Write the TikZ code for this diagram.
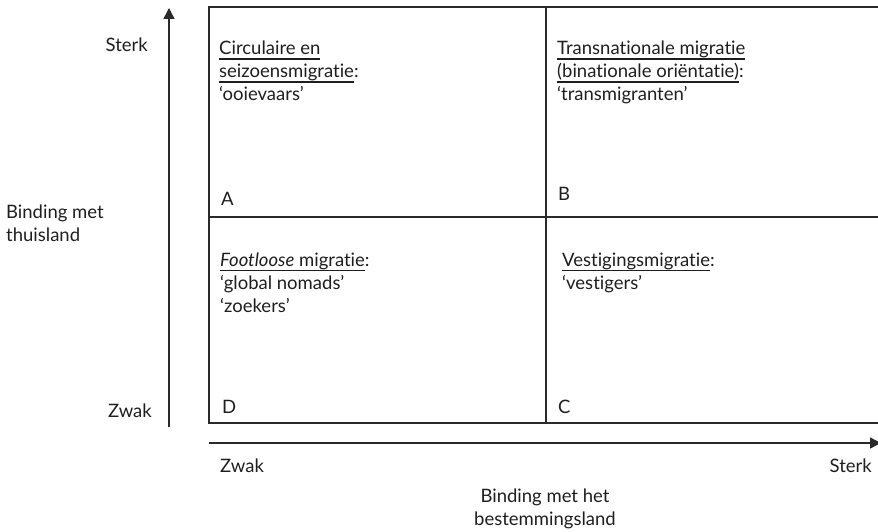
\documentclass[tikz,border=0pt]{standalone}
\usepackage{fontspec}
\setmainfont{Lato}[Ligatures={NoCommon}]
\usetikzlibrary{arrows.meta}
\definecolor{ink}{HTML}{1E1E1E}
\definecolor{rule}{HTML}{2A2A2A}
\newcommand{\myul}[1]{\leavevmode\setbox0\hbox{#1}\rlap{\rule[-4.6pt]{\wd0}{1.1pt}}\box0}
\begin{document}
\begin{tikzpicture}[x=1pt,y=-1pt,
  lbl/.style={anchor=base west,inner sep=0pt,text=ink,font=\fontsize{18.5}{23}\selectfont},
  lblr/.style={lbl,anchor=base east},
  lblc/.style={lbl,anchor=base},
  frame/.style={draw=rule,line width=1.4pt},
  axis/.style={draw=rule,line width=1.4pt,-{Triangle[length=11pt,width=11pt]}}]
\useasboundingbox (0,0) rectangle (878,532);
% axes endpoints
\coordinate (yb) at (169,427);
\coordinate (yt) at (169,8);
\coordinate (xl) at (209,443);
\coordinate (xr) at (881,443);
\draw[axis] (yb) -- (yt);
\draw[axis] (xl) -- (xr);
% quadrant frame
\coordinate (tl) at (209,7);
\coordinate (tr) at (880,7);
\coordinate (bl) at (209,423);
\coordinate (br) at (880,423);
\coordinate (mt) at (546,7);
\coordinate (mb) at (546,423);
\coordinate (ml) at (209,217);
\coordinate (mr) at (880,217);
\draw[frame] (tr) -- (tl) -- (bl) -- (br);
\draw[frame] (mt) -- (mb);
\draw[frame] (ml) -- (mr);
% quadrant A
\node[lbl] (a1) at (219,55) {\myul{Circulaire en}};
\node[lbl] (a2) at (219,78) {\myul{seizoensmigratie}:};
\node[lbl] (a3) at (219,101) {‘ooievaars’};
\node[lbl] (A) at (221,205) {A};
% quadrant B
\node[lbl] (b1) at (557,55) {\myul{Transnationale migratie}};
\node[lbl] (b2) at (557,78) {\myul{(binationale oriëntatie)}:};
\node[lbl] (b3) at (557,101) {‘transmigranten’};
\node[lbl] (B) at (558,200) {B};
% quadrant D
\node[lbl] (d1) at (220,266) {\myul{\textit{Footloose} migratie}:};
\node[lbl] (d2) at (220,289) {‘global nomads’};
\node[lbl] (d3) at (220,312) {‘zoekers’};
\node[lbl] (D) at (222,413) {D};
% quadrant C
\node[lbl] (c1) at (562,266) {\myul{Vestigingsmigratie}:};
\node[lbl] (c2) at (562,289) {‘vestigers’};
\node[lbl] (C) at (558,413) {C};
% vertical axis labels
\node[lblr] (ys) at (148,52) {Sterk};
\node[lblr] (yw) at (152,417) {Zwak};
\node[lbl] (yl1) at (6,218) {Binding met};
\node[lbl] (yl2) at (6,241) {thuisland};
% horizontal axis labels
\node[lbl] (xw) at (220,472) {Zwak};
\node[lblr] (xs) at (872,472) {Sterk};
\node[lblc] (xl1) at (545,502) {Binding met het};
\node[lblc] (xl2) at (545,525) {bestemmingsland};
\end{tikzpicture}
\end{document}
